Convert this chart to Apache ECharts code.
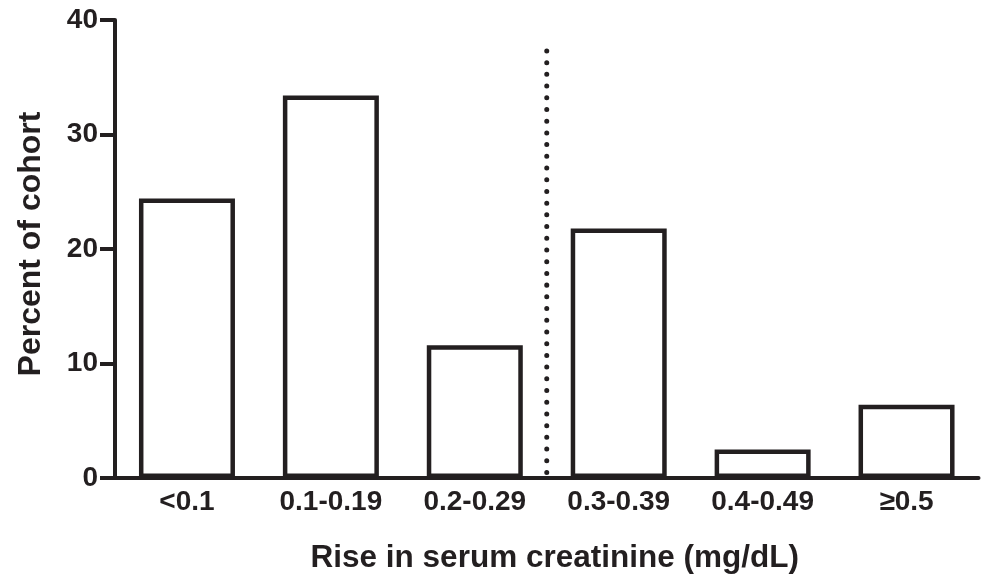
<!DOCTYPE html>
<html><head><meta charset="utf-8">
<script src="https://cdn.jsdelivr.net/npm/echarts@6/dist/echarts.min.js"></script>
<style>html,body{margin:0;padding:0;background:#fff}#c{width:984px;height:579px}</style>
</head><body><div id="c"></div>
<script>
var categories = ['<0.1', '0.1-0.19', '0.2-0.29', '0.3-0.39', '0.4-0.49', '\u22650.5'];
var percentOfCohort = [24.4, 33.4, 11.6, 21.8, 2.5, 6.4];
var yTicks = [0, 10, 20, 30, 40];
var dividerX = [3, 3];
var dividerY = [37.3, 0];

var ink = '#231f20';
var font = '"Liberation Sans", Arial, Helvetica, sans-serif';
var chart = echarts.init(document.getElementById('c'), null, {renderer: 'canvas'});
chart.setOption({
  animation: false,
  backgroundColor: '#fff',
  grid: {left: 115, right: 5.5, top: 20, bottom: 99, containLabel: false},
  xAxis: [{
    type: 'category', data: categories,
    axisLine: {show: true, lineStyle: {color: ink, width: 4}},
    axisTick: {show: false},
    axisLabel: {color: ink, fontSize: 28, fontWeight: 'bold', fontFamily: font, margin: 10},
    name: 'Rise in serum creatinine (mg/dL)', nameLocation: 'middle', nameGap: 64,
    nameTextStyle: {color: ink, fontSize: 31.5, fontWeight: 'bold', fontFamily: font, padding: [0, 0, 0, 16]}
  }, {
    type: 'value', min: 0, max: categories.length, show: false
  }],
  yAxis: {
    type: 'value', min: yTicks[0], max: yTicks[yTicks.length - 1], interval: 10,
    axisLine: {show: true, lineStyle: {color: ink, width: 4}},
    axisTick: {show: true, length: 15, lineStyle: {color: ink, width: 4}},
    axisLabel: {color: ink, fontSize: 28, fontWeight: 'bold', fontFamily: font, margin: 17},
    splitLine: {show: false},
    name: 'Percent of cohort', nameLocation: 'middle', nameRotate: 90, nameGap: 68,
    nameTextStyle: {color: ink, fontSize: 32, fontWeight: 'bold', fontFamily: font, padding: [0, 0, 0, 10]}
  },
  series: [{
    type: 'bar', data: percentOfCohort, barWidth: 96, xAxisIndex: 0,
    itemStyle: {color: '#fff', borderColor: ink, borderWidth: 4.5}
  }, {
    type: 'line', xAxisIndex: 1, symbol: 'none',
    data: dividerX.map(function (x, i) { return [x, dividerY[i]]; }),
    lineStyle: {color: ink, width: 5, type: [0.01, 11.7], cap: 'round'}
  }]
});
</script></body></html>
